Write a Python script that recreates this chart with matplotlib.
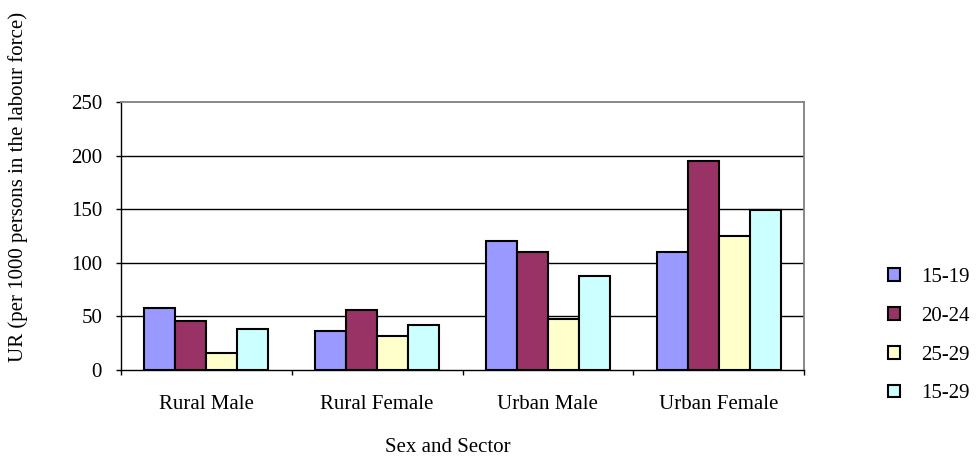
import matplotlib
matplotlib.use('Agg')
import matplotlib.pyplot as plt
import numpy as np

categories = ['Rural Male', 'Rural Female', 'Urban Male', 'Urban Female']
age_groups = ['15-19', '20-24', '25-29', '15-29']
ur_15_19 = [58, 36, 120, 110]
ur_20_24 = [46, 56, 110, 195]
ur_25_29 = [16, 32, 48, 125]
ur_15_29 = [38, 42, 88, 149]
yticks = [0, 50, 100, 150, 200, 250]

series = [ur_15_19, ur_20_24, ur_25_29, ur_15_29]
colors = ['#9999FF', '#993366', '#FFFFCC', '#CCFFFF']

plt.rcParams['font.family'] = ['Liberation Serif', 'DejaVu Serif']
FS = 15

fig = plt.figure(figsize=(9.76, 4.59), dpi=100)
ax = fig.add_axes([121 / 976, 1 - 370 / 459, 683 / 976, 268 / 459])

x = np.arange(len(categories))
w = 1 / 5.5
handles = []
for i, (vals, c) in enumerate(zip(series, colors)):
    b = ax.bar(x + (i - 1.5) * w, vals, w, color=c, edgecolor='black',
               linewidth=1.5, zorder=3, label=age_groups[i])
    handles.append(b)

ax.set_xlim(-0.5, 3.5)
ax.set_ylim(0, 250)
ax.set_yticks(yticks)
ax.tick_params(axis='y', labelsize=FS, length=3.6, width=1, pad=10, direction='out')
for yv in yticks[1:-1]:
    ax.axhline(yv, color='black', linewidth=1, zorder=1)

ax.set_xticks(x)
ax.set_xticklabels(categories, fontsize=FS)
ax.tick_params(axis='x', which='major', length=0, pad=18)
ax.set_xticks(np.arange(-0.5, 4, 1), minor=True)
ax.tick_params(axis='x', which='minor', length=3.6, width=1, direction='out')

for side in ['top', 'right']:
    ax.spines[side].set_color('#808080')
    ax.spines[side].set_linewidth(1.3)
for side in ['left', 'bottom']:
    ax.spines[side].set_color('black')
    ax.spines[side].set_linewidth(1)

fig.text(18 / 976, 1 - 187 / 459, 'UR (per 1000 persons in the labour force)',
         rotation=90, ha='center', va='center', fontsize=FS)
fig.text(448 / 976, 1 - 448 / 459, 'Sex and Sector', ha='center', va='center',
         fontsize=FS)

fig.legend(handles=handles, loc='upper left', bbox_to_anchor=(888 / 976, 1 - 268 / 459),
           frameon=False, fontsize=FS, handlelength=0.57, handleheight=0.57,
           handletextpad=1.0, labelspacing=0.95, borderpad=0, borderaxespad=0)

fig.savefig('out.png', dpi=100)
